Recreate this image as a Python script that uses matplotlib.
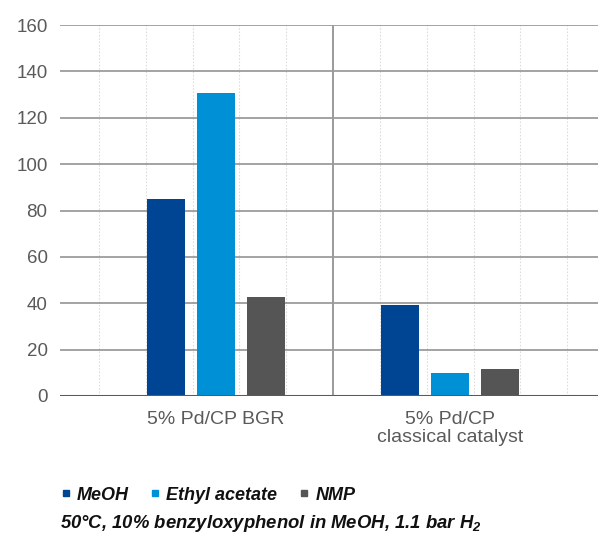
import matplotlib
matplotlib.use("Agg")
import matplotlib.pyplot as plt
from matplotlib.lines import Line2D
import numpy as np

categories = ["5% Pd/CP BGR", "5% Pd/CP\nclassical catalyst"]
series_names = ["MeOH", "Ethyl acetate", "NMP"]
meoh = [85, 39.2]
ethyl_acetate = [130.7, 9.8]
nmp = [42.7, 11.6]
yticks = [0, 20, 40, 60, 80, 100, 120, 140, 160]
footnote = "50°C, 10% benzyloxyphenol in MeOH, 1.1 bar H$_2$"

colors = ["#004593", "#0090d6", "#555555"]

plt.rcParams['font.family'] = ['Liberation Sans', 'DejaVu Sans']
plt.rcParams['mathtext.fontset'] = 'custom'
plt.rcParams['mathtext.it'] = 'Liberation Sans:italic:bold'
plt.rcParams['mathtext.rm'] = 'Liberation Sans:italic:bold'

fig = plt.figure(figsize=(5.98, 5.35), dpi=100)
ax = fig.add_axes([60/598, 1-396/535, 538/598, 371/535])

x = np.arange(len(categories))
width = 0.162
offsets = [-0.214, 0.0, 0.214]
for vals, off, c in zip([meoh, ethyl_acetate, nmp], offsets, colors):
    ax.bar(x + off, vals, width, color=c, zorder=3)

ax.set_ylim(0, 160)
ax.set_xlim(-0.667, 1.632)
ax.set_yticks(yticks)
ax.set_yticklabels([str(t) for t in yticks], fontsize=13.5, color="#5a5a5a")
ax.set_xticks(x)
ax.set_xticklabels(categories, fontsize=14, color="#5a5a5a", linespacing=1.12)
ax.tick_params(axis='both', length=0)
ax.tick_params(axis='y', pad=9)
ax.tick_params(axis='x', pad=10.5)

for t in yticks[1:]:
    ax.axhline(t, color="#8a8a8a", lw=1.1, zorder=1)
ax.axhline(0, color="#5a5a5a", lw=2.2, zorder=4)

for gx in [-0.5, -0.3, -0.1, 0.1, 0.3, 0.7, 0.9, 1.1, 1.3, 1.5]:
    ax.axvline(gx, color="#dddddd", lw=0.8, ls=(0, (1.5, 1.5)), zorder=0)
ax.axvline(0.5, color="#9a9a9a", lw=1.4, zorder=1)

for s in ax.spines.values():
    s.set_visible(False)

handles = [Line2D([], [], marker='s', ls='none', color=c, markersize=4.5) for c in colors]
leg = fig.legend(handles, series_names, loc='center left', bbox_to_anchor=(43/598, 1-495/535),
                 ncol=3, frameon=False, handletextpad=0.25, columnspacing=1.15,
                 handlelength=0.7, prop={'style': 'italic', 'weight': 'bold', 'size': 13})
for t in leg.get_texts():
    t.set_color("#111111")

fig.text(60/598, 1-523/535, footnote, fontsize=13.3, style='italic', weight='bold',
         color="#111111", va='center', ha='left')

fig.savefig("out.png", dpi=100)
